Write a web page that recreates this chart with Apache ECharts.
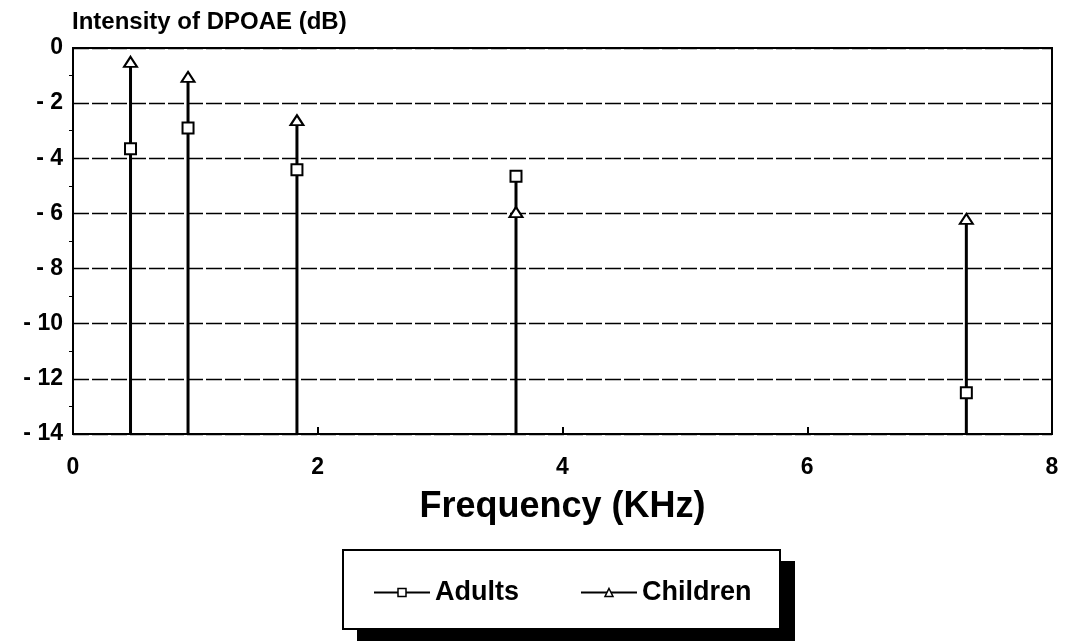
<!DOCTYPE html>
<html>
<head>
<meta charset="utf-8">
<script src="https://cdn.jsdelivr.net/npm/echarts@6/dist/echarts.min.js"></script>
<style>
  html, body { margin: 0; padding: 0; background: #fff; }
  #chart { width: 1065px; height: 641px; }
</style>
</head>
<body>
<div id="chart"></div>
<script>
//--------------------------------
// Data
//--------------------------------
const freqs = [0.47, 0.94, 1.83, 3.62, 7.3];
const adults = [-3.65, -2.9, -4.42, -4.65, -12.5];
const children = [-0.5, -1.05, -2.62, -5.95, -6.2];
const seriesNames = ['Adults', 'Children'];

const FONT = '"Liberation Sans", Arial, sans-serif';

//--------------------------------
// Build series data
//--------------------------------
const adultPts = freqs.map((f, i) => [f, adults[i]]);
const childPts = freqs.map((f, i) => [f, children[i]]);
// stem goes from the axis floor up to the higher of the two markers
const stems = freqs.map((f, i) => [f, Math.max(adults[i], children[i])]);

const myChart = echarts.init(document.getElementById('chart'), null, { renderer: 'canvas' });

const options = {
    animation: false,
    backgroundColor: '#fff',
    title: {
        text: 'Intensity of DPOAE (dB)',
        left: 67,
        top: 5,
        textStyle: { fontFamily: FONT, fontSize: 24, fontWeight: 'bold', color: '#000' }
    },
    grid: {
        left: 73,
        right: 13,
        top: 48,
        bottom: 207,
        show: true,
        borderColor: '#000',
        borderWidth: 2
    },
    graphic: [
        // legend shadow + frame
        { type: 'rect', z: 0, shape: { x: 357, y: 561, width: 438, height: 80 }, style: { fill: '#000' } },
        { type: 'rect', z: 1, shape: { x: 343, y: 550, width: 437, height: 79 }, style: { fill: '#fff', stroke: '#000', lineWidth: 2 } }
    ],
    legend: {
        z: 10,
        left: 368,
        top: 574,
        itemWidth: 56,
        itemHeight: 10,
        itemGap: 61,
        data: seriesNames,
        textStyle: { fontFamily: FONT, fontSize: 27, fontWeight: 'bold', color: '#000' },
        lineStyle: { color: '#000', width: 2, opacity: 1 },
        itemStyle: { borderColor: '#000', borderWidth: 1.5 }
    },
    xAxis: {
        type: 'value',
        min: 0,
        max: 8,
        interval: 2,
        name: 'Frequency (KHz)',
        nameLocation: 'middle',
        nameGap: 55,
        nameTextStyle: { fontFamily: FONT, fontSize: 36, fontWeight: 'bold', color: '#000' },
        axisLine: { onZero: false, lineStyle: { color: '#000', width: 2 } },
        axisTick: { inside: true, length: 7, lineStyle: { color: '#000', width: 2 } },
        axisLabel: { fontFamily: FONT, fontSize: 23, fontWeight: 'bold', color: '#000', margin: 22 },
        splitLine: { show: false }
    },
    yAxis: {
        type: 'value',
        min: -14,
        max: 0,
        interval: 2,
        axisLine: { onZero: false, lineStyle: { color: '#000', width: 2 } },
        axisTick: { show: false },
        minorTick: { show: true, splitNumber: 2, length: 4, lineStyle: { color: '#000', width: 1 } },
        axisLabel: {
            fontFamily: FONT, fontSize: 23, fontWeight: 'bold', color: '#000', margin: 10,
            formatter: (v) => (v < 0 ? '- ' + Math.abs(v) : String(v))
        },
        splitLine: { lineStyle: { color: '#000', width: 1.3, type: [16, 3] } }
    },
    series: [
        {
            type: 'custom',
            name: 'stems',
            silent: true,
            z: 1,
            data: stems,
            renderItem: (params, api) => {
                const top = api.coord([api.value(0), api.value(1)]);
                const bottom = api.coord([api.value(0), -14]);
                return {
                    type: 'line',
                    shape: { x1: bottom[0], y1: bottom[1], x2: top[0], y2: top[1] },
                    style: { stroke: '#000', lineWidth: 3 }
                };
            }
        },
        {
            type: 'line',
            name: 'Adults',
            z: 3,
            data: adultPts,
            symbol: 'rect',
            symbolSize: 11,
            lineStyle: { opacity: 0 },
            itemStyle: { color: '#fff', borderColor: '#000', borderWidth: 2 },
            emphasis: { disabled: true }
        },
        {
            type: 'line',
            name: 'Children',
            z: 3,
            data: childPts,
            symbol: 'triangle',
            symbolSize: [13, 10],
            lineStyle: { opacity: 0 },
            itemStyle: { color: '#fff', borderColor: '#000', borderWidth: 2 },
            emphasis: { disabled: true }
        }
    ]
};

myChart.setOption(options);
</script>
</body>
</html>
